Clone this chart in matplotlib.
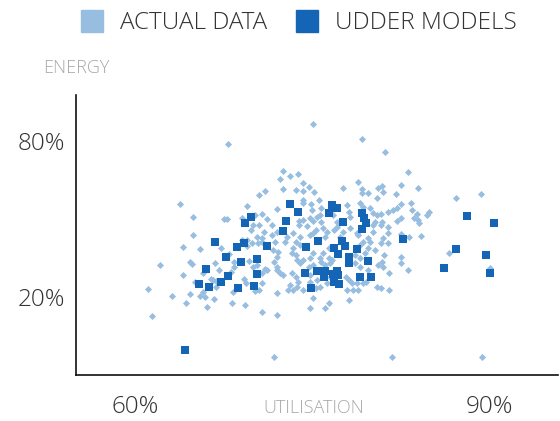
import matplotlib.pyplot as plt
from matplotlib.lines import Line2D

# values (utilisation %, energy %)
actual_util = [
    67.9, 75.1, 79.2, 81.2, 83.1, 63.8, 64.9, 64.9, 61.1, 61.4, 62.1, 63.1, 64.1, 64.1, 64.3,
    71.8, 81.8, 89.4, 87.2, 89.3, 86.6, 90.1, 81.5, 80.8, 70.8, 72.0, 74.8, 76.1, 76.4, 75.1, 78.1,
    65.5, 67.3, 64.7, 64.8, 66.8, 65.8, 67.1, 68.0, 68.4, 68.4, 68.1, 66.4, 66.6, 65.1, 66.9, 66.9,
    65.8, 65.5, 65.9, 64.7, 66.7, 66.1, 68.2, 69.3, 69.5, 69.9, 69.7, 70.0, 69.2, 69.4, 70.2, 70.5,
    70.4, 67.5, 67.8, 69.1, 69.5, 70.2, 70.0, 69.8, 70.5, 70.5, 70.3, 69.1, 69.5, 68.3, 70.3, 70.8, 71.0,
    72.5, 72.3, 73.1, 73.8, 74.2, 72.5, 73.6, 74.2, 74.7, 75.2, 71.0, 75.6, 74.2, 74.2, 74.9, 75.8,
    75.0, 72.0, 70.8, 71.2, 71.6, 70.9, 71.6, 72.0, 73.4, 74.0, 73.9, 73.9, 74.6, 75.1, 75.4, 75.8,
    75.3, 75.9, 76.8, 77.1, 76.9, 77.6, 78.0, 78.1, 78.2, 78.9, 79.2, 79.2, 79.7, 79.1, 79.9, 80.5,
    80.6, 80.5, 80.2, 78.8, 77.4, 76.1, 74.8, 72.9, 70.8, 80.9, 81.0, 79.3, 80.2, 80.8, 78.2, 75.7,
    74.8, 74.2, 77.1, 80.3, 80.8, 81.4,
    82.5, 84.0, 82.1, 83.4, 83.5, 82.5, 82.2, 81.9, 81.4, 83.9, 83.6, 84.0, 84.1, 84.9, 84.7, 82.5,
    82.2, 80.9, 81.4, 82.5, 83.2, 84.2, 81.0,
    70.8, 71.9, 72.7, 73.6, 74.0, 71.7, 72.1, 72.0, 71.8, 73.3, 73.6, 73.7, 74.0, 74.2, 74.8, 75.1,
    75.9, 76.4, 76.4, 76.7, 75.8, 76.1, 75.1, 74.7, 78.6, 79.1, 79.5, 79.3, 79.9, 78.6, 79.1, 71.2,
    70.8, 72.0, 72.3, 72.5, 73.3, 73.6, 73.8, 73.1, 73.4, 73.0, 74.2, 74.8, 75.4, 75.3, 75.7, 76.5,
    76.3, 77.9, 78.1, 78.4, 78.8, 78.0, 78.5, 78.9, 79.6, 80.5, 72.0, 80.6, 80.3, 73.4, 72.0, 73.7,
    75.1, 76.3, 77.6, 78.9, 79.7, 80.2, 80.8, 79.1, 79.7, 79.7, 76.5, 75.7, 74.8, 79.3,
    81.4, 81.1, 80.9, 81.0, 81.5, 82.5, 82.5, 83.1,
]
actual_energy = [
    78.8, 86.5, 80.8, 75.8, 68.1, 55.8, 50.8, 43.8, 23.1, 12.7, 32.3, 20.4, 39.2, 28.5, 17.7,
    -3.1, -3.1, -3.1, 58.1, 59.6, 36.9, 31.2, 22.7, 23.5, 14.2, 13.1, 15.8, 15.8, 17.7, 19.6, 18.8,
    38.5, 38.8, 33.5, 32.7, 33.1, 29.2, 30.4, 36.5, 33.5, 31.5, 29.6, 26.9, 26.5, 25.8, 26.2, 23.8,
    21.9, 20.4, 20.0, 21.2, 19.2, 16.2, 17.7, 16.9, 39.6, 40.8, 33.8, 31.5, 26.9, 25.4, 22.3, 22.7,
    40.8, 50.0, 50.0, 50.4, 55.0, 51.5, 47.7, 45.8, 59.2, 47.7, 43.1, 41.9, 41.9, 21.9, 32.3, 25.4, 30.8,
    68.5, 65.4, 66.5, 67.3, 63.8, 61.5, 61.2, 60.8, 62.3, 60.4, 60.8, 57.3, 57.3, 56.2, 55.8, 54.2,
    53.5, 53.8, 51.9, 50.0, 47.7, 45.0, 43.8, 45.0, 44.6, 43.1, 47.7, 49.2, 47.3, 49.2, 50.8, 48.8,
    45.8, 46.5, 51.5, 48.8, 45.8, 61.9, 55.4, 52.7, 46.5, 64.2, 61.5, 60.0, 60.0, 56.2, 54.2, 58.1,
    61.9, 51.5, 47.7, 44.6, 43.1, 43.1, 43.8, 43.1, 42.7, 62.7, 60.4, 54.6, 52.3, 51.9, 50.8, 51.5,
    50.4, 49.6, 46.9, 48.8, 47.7, 46.9,
    63.1, 61.9, 59.6, 56.2, 53.5, 55.8, 54.2, 53.5, 52.7, 51.9, 50.4, 49.6, 48.5, 52.7, 51.5, 50.4,
    49.2, 48.8, 44.6, 44.2, 43.1, 43.5, 42.7,
    41.2, 41.2, 41.2, 41.2, 40.0, 38.1, 37.3, 35.4, 33.5, 36.9, 36.2, 34.2, 33.1, 34.2, 35.0, 36.9,
    36.9, 38.8, 35.0, 34.2, 33.5, 32.3, 32.3, 31.5, 36.2, 35.0, 36.9, 41.2, 41.2, 33.1, 31.5, 30.4,
    29.2, 30.4, 29.2, 28.5, 29.2, 27.7, 25.8, 24.6, 22.7, 22.7, 22.7, 25.8, 26.5, 23.5, 23.8, 27.7,
    25.4, 27.7, 26.5, 25.4, 25.4, 22.7, 22.7, 22.7, 25.8, 23.8, 21.5, 32.3, 38.1, 38.8, 31.5, 23.8,
    44.6, 45.0, 45.0, 43.8, 42.7, 45.0, 40.8, 40.0, 38.8, 30.4, 33.1, 35.0, 28.5, 25.4,
    40.8, 36.2, 33.5, 31.5, 29.2, 35.4, 33.1, 30.4,
]
model_util = [
    69.3, 69.8, 66.8, 73.1, 73.8, 72.8, 72.5, 76.7, 77.1, 76.4, 77.6, 79.2, 79.4, 79.6, 79.2,
    75.5, 77.5, 88.1, 90.4, 82.7, 68.6, 69.2, 67.7, 70.3, 69.0, 66.0, 67.9, 70.3, 67.3, 65.4,
    66.3, 68.7, 70.1, 64.2, 71.2, 74.5, 76.9, 77.8, 78.8, 77.2, 78.1, 78.1, 79.7, 74.4, 75.4,
    76.1, 76.0, 76.8, 77.1, 77.2, 76.9, 77.3, 79.1, 80.0, 74.9, 87.2, 89.7, 86.2, 90.1,
]
model_energy = [
    48.5, 50.8, 41.2, 55.8, 52.7, 49.2, 45.4, 55.4, 54.2, 52.3, 48.8, 52.3, 50.4, 48.5, 46.2,
    41.5, 41.5, 51.2, 48.5, 42.3, 39.2, 40.8, 35.4, 34.6, 33.5, 30.8, 28.1, 28.8, 25.8, 25.0,
    23.8, 23.5, 24.2, -0.4, 39.6, 39.2, 38.8, 39.6, 38.5, 36.5, 35.4, 33.1, 33.8, 29.2, 30.0,
    30.0, 27.7, 28.8, 30.0, 28.5, 25.8, 25.0, 27.7, 27.7, 23.5, 38.5, 36.2, 31.2, 29.2,
]

x_ticks = [60, 90]
y_ticks = [20, 80]
series_names = ["ACTUAL DATA", "UDDER MODELS"]

light_blue = "#97bee0"
dark_blue = "#1565b6"

plt.rcParams["font.family"] = ["Open Sans", "DejaVu Sans"]
plt.rcParams["font.weight"] = "light"

fig = plt.figure(figsize=(5.6, 4.21), dpi=100)
ax = fig.add_axes([0.1357, 0.109, 0.861, 0.665])

ax.scatter(actual_util, actual_energy, marker="D", s=13, color=light_blue, linewidths=0, zorder=2)
ax.scatter(model_util, model_energy, marker="s", s=27, color=dark_blue, linewidths=0, zorder=3)

ax.set_xlim(55.0, 95.85)
ax.set_ylim(-10.0, 97.7)
ax.set_xticks(x_ticks)
ax.set_xticklabels([f"{v}%" for v in x_ticks])
ax.set_yticks(y_ticks)
ax.set_yticklabels([f"{v}%" for v in y_ticks])
ax.tick_params(axis="both", length=0, labelsize=17.5, labelcolor="#333333")
ax.tick_params(axis="x", pad=14)
ax.tick_params(axis="y", pad=8)

for side in ["top", "right"]:
    ax.spines[side].set_visible(False)
for side in ["left", "bottom"]:
    ax.spines[side].set_color("#111111")
    ax.spines[side].set_linewidth(1.2)

fig.text(43 / 560, 1 - 68 / 421, "ENERGY", fontsize=13, color="#a8a8a8",
         ha="left", va="center")
fig.text(314 / 560, 1 - 408 / 421, "UTILISATION", fontsize=13, color="#a8a8a8",
         ha="center", va="center")

handles = [
    Line2D([], [], marker="s", linestyle="none", markersize=15.5, color=light_blue),
    Line2D([], [], marker="s", linestyle="none", markersize=15.5, color=dark_blue),
]
leg = fig.legend(handles, series_names, loc="upper center", bbox_to_anchor=(0.532, 1.025),
                 ncol=2, frameon=False, fontsize=17.5, handletextpad=0.65, columnspacing=1.15,
                 handlelength=1.0)
for t in leg.get_texts():
    t.set_color("#333333")

fig.savefig("out.png", dpi=100)
